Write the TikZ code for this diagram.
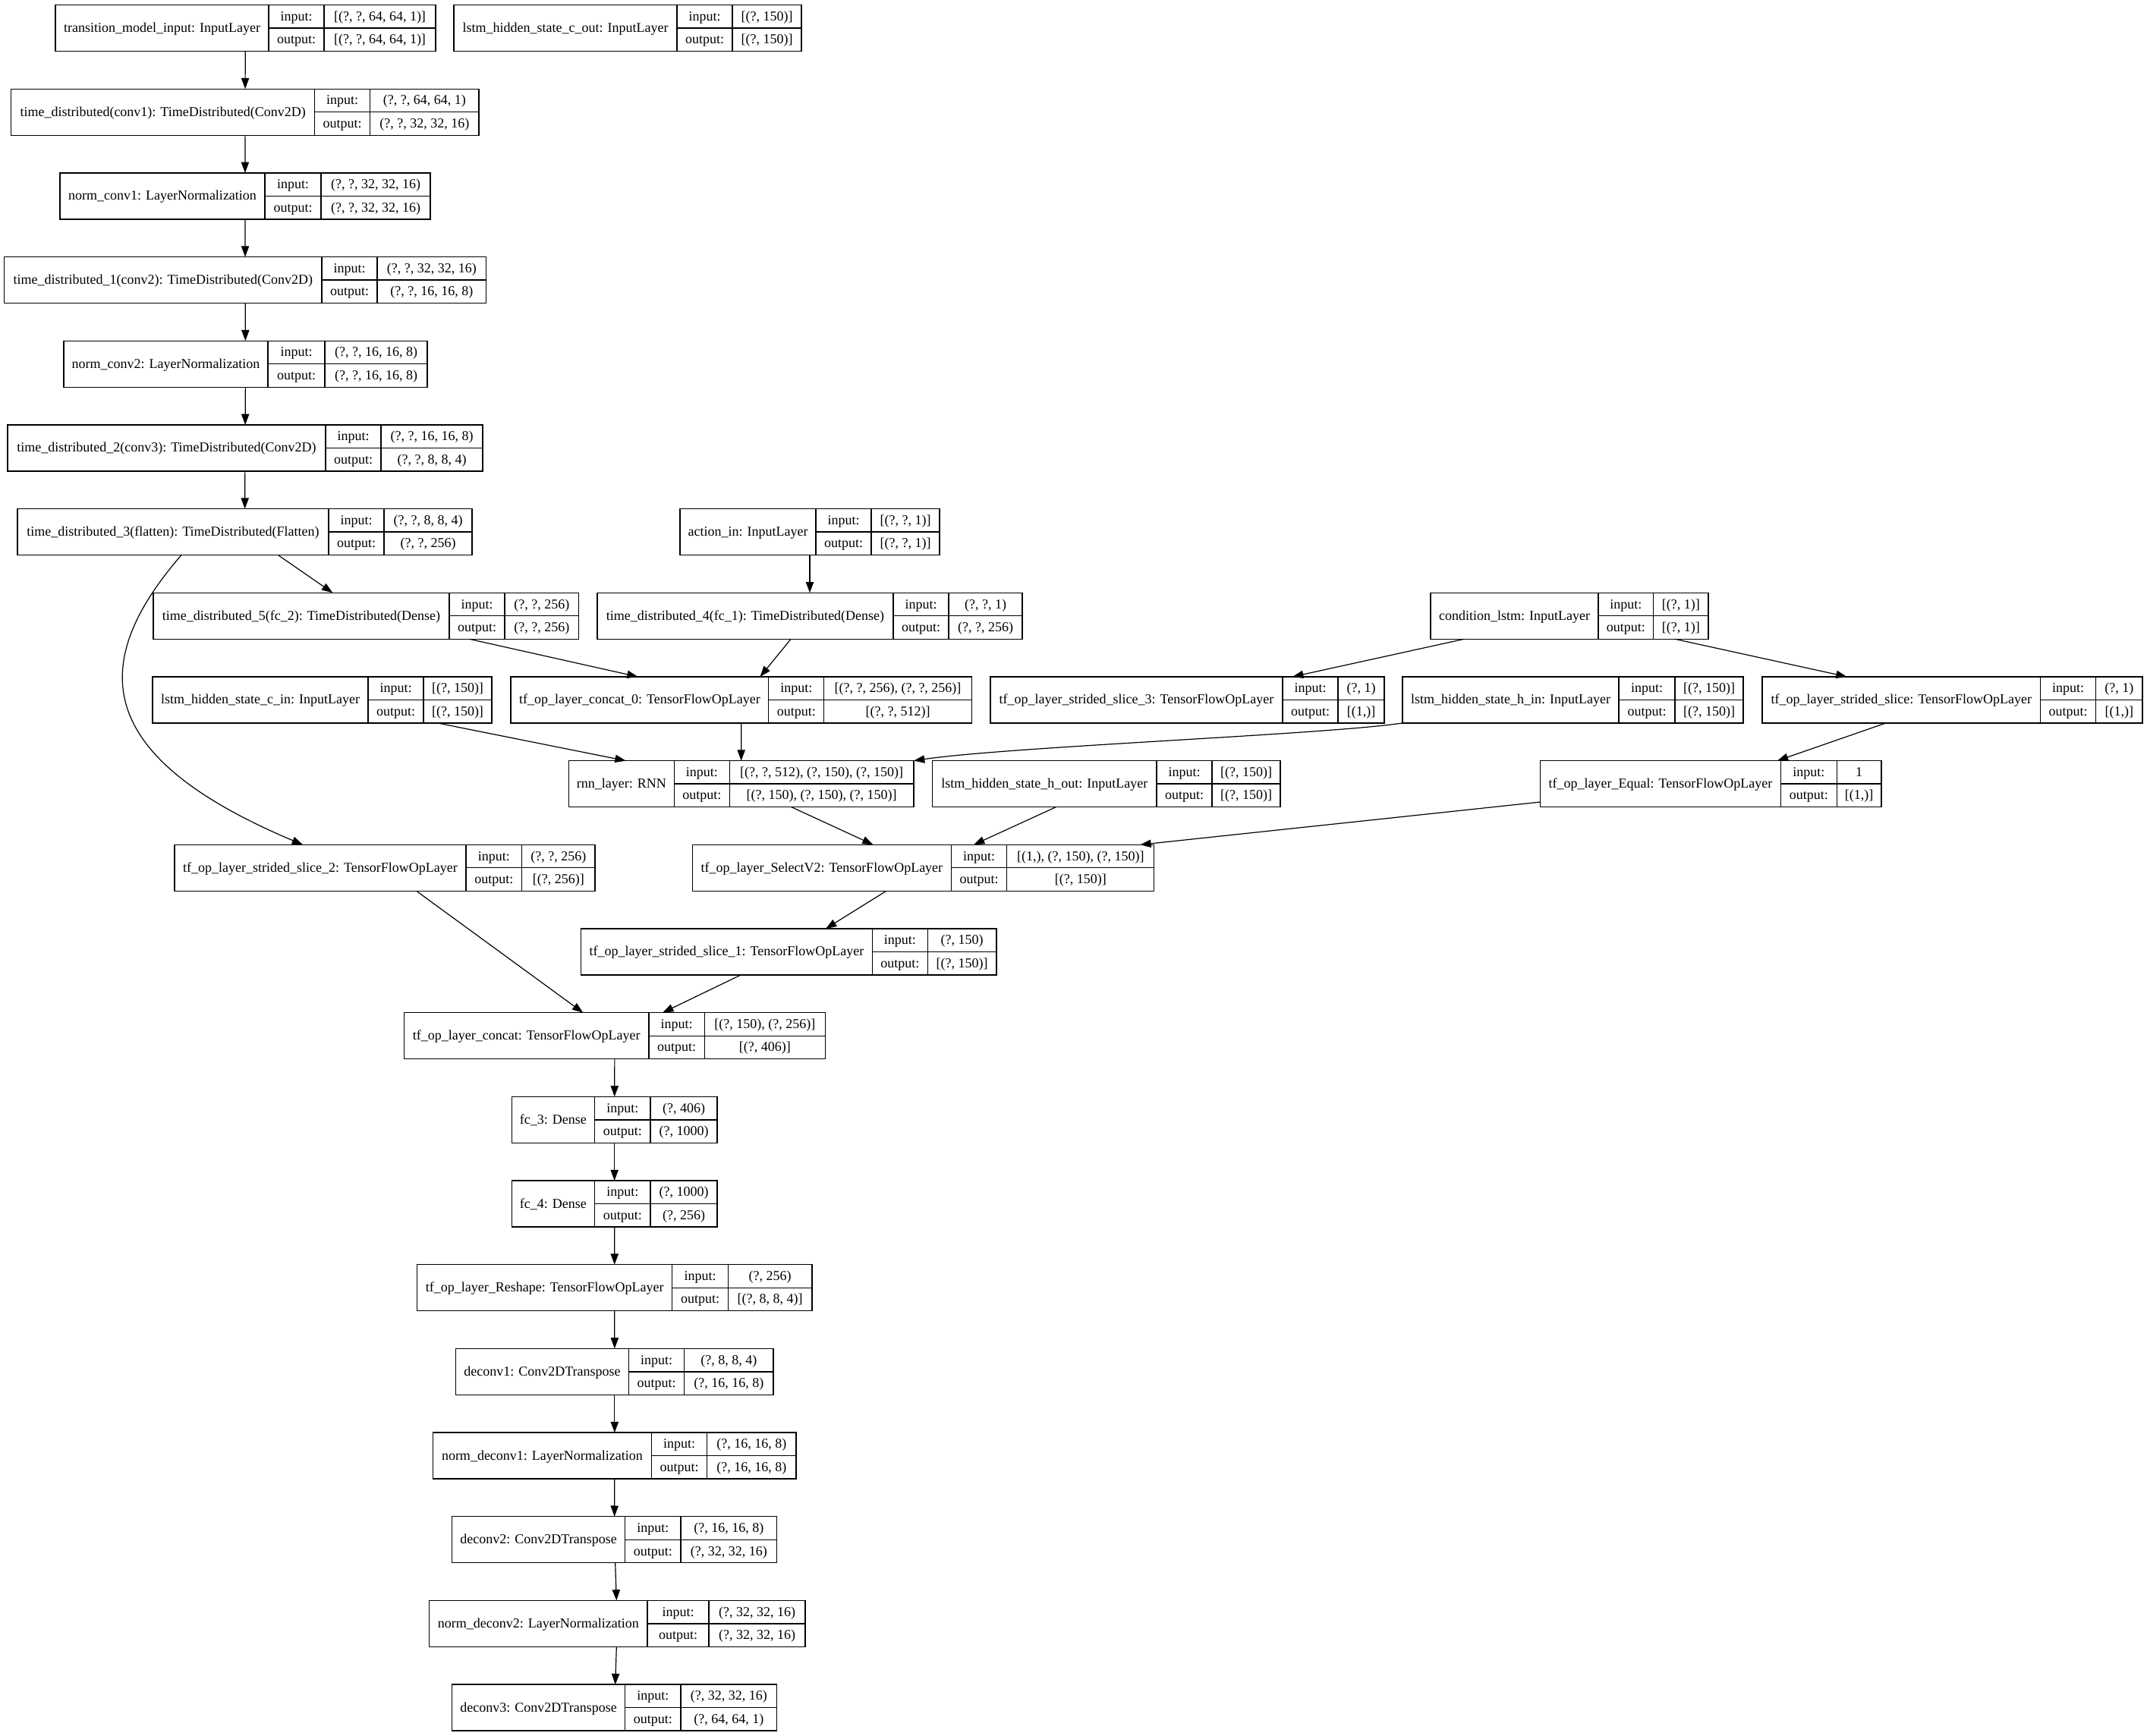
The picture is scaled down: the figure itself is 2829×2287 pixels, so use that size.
\documentclass[tikz,border=0pt]{standalone}
\usepackage{fontspec}
\setmainfont{Liberation Serif}
\usetikzlibrary{calc, arrows.meta}

% one keras layer: name, rank, left, split 1, split 2, right, label, input, output
\newcommand{\kerasbox}[9]{%
  \pgfmathsetmacro\ktop{6.5+110.68*#2}%
  \pgfmathsetmacro\kmid{\ktop+30.5}%
  \pgfmathsetmacro\kbot{\ktop+61}%
  \pgfmathsetmacro\kwd{(#6-#3)*0.75}%
  \node[layerbox, minimum width=\kwd pt, anchor=north west] (#1) at (#3,\ktop) {};
  \draw[layerline] (#4,\ktop) -- (#4,\kbot) (#5,\ktop) -- (#5,\kbot) (#4,\kmid) -- (#6,\kmid);
  \node[celltext] (#1-name) at ({(#3+#4)/2},\kmid+5.5) {#7};
  \node[celltext] (#1-inl) at ({(#4+#5)/2},\ktop+20.75) {input:};
  \node[celltext] (#1-outl) at ({(#4+#5)/2},\kmid+20.75) {output:};
  \node[celltext] (#1-in) at ({(#5+#6)/2},\ktop+20.75) {#8};
  \node[celltext] (#1-out) at ({(#5+#6)/2},\kmid+20.75) {#9};
}

\begin{document}
\begin{tikzpicture}[>={Triangle[length=10.7pt,width=7.7pt]}, x=0.75pt, y=-0.75pt,
  font=\fontsize{13.5}{16}\selectfont,
  layerbox/.style={draw, line width=1pt, inner sep=0pt, outer sep=0pt, minimum height=45.75pt},
  layerline/.style={line width=1pt},
  celltext/.style={inner sep=0pt, anchor=base},
  edge/.style={->, line width=0.9pt}]
  \path[use as bounding box, fill=white] (0,0) rectangle (2829,2287);

  % encoder column
  \kerasbox{inp}{0}{73}{354}{427}{574}{transition\_model\_input: InputLayer}{[(?, ?, 64, 64, 1)]}{[(?, ?, 64, 64, 1)]}
  \kerasbox{hcout}{0}{598}{892}{965}{1056}{lstm\_hidden\_state\_c\_out: InputLayer}{[(?, 150)]}{[(?, 150)]}
  \kerasbox{conv1}{1}{14.7}{414.6}{487.5}{631}{time\_distributed(conv1): TimeDistributed(Conv2D)}{(?, ?, 64, 64, 1)}{(?, ?, 32, 32, 16)}
  \kerasbox{nconv1}{2}{79}{349}{423}{567}{norm\_conv1: LayerNormalization}{(?, ?, 32, 32, 16)}{(?, ?, 32, 32, 16)}
  \kerasbox{conv2}{3}{5.6}{424}{497}{640.5}{time\_distributed\_1(conv2): TimeDistributed(Conv2D)}{(?, ?, 32, 32, 16)}{(?, ?, 16, 16, 8)}
  \kerasbox{nconv2}{4}{84}{353}{428}{563}{norm\_conv2: LayerNormalization}{(?, ?, 16, 16, 8)}{(?, ?, 16, 16, 8)}
  \kerasbox{conv3}{5}{10}{429}{502}{636}{time\_distributed\_2(conv3): TimeDistributed(Conv2D)}{(?, ?, 16, 16, 8)}{(?, ?, 8, 8, 4)}
  \kerasbox{flat}{6}{23}{433}{506}{622}{time\_distributed\_3(flatten): TimeDistributed(Flatten)}{(?, ?, 8, 8, 4)}{(?, ?, 256)}
  \kerasbox{act}{6}{896}{1075}{1148}{1238}{action\_in: InputLayer}{[(?, ?, 1)]}{[(?, ?, 1)]}

  % recurrent part
  \kerasbox{fc2}{7}{202}{592}{665}{762.5}{time\_distributed\_5(fc\_2): TimeDistributed(Dense)}{(?, ?, 256)}{(?, ?, 256)}
  \kerasbox{fc1}{7}{787}{1177}{1250}{1347}{time\_distributed\_4(fc\_1): TimeDistributed(Dense)}{(?, ?, 1)}{(?, ?, 256)}
  \kerasbox{cond}{7}{1885}{2106}{2178.6}{2251}{condition\_lstm: InputLayer}{[(?, 1)]}{[(?, 1)]}
  \kerasbox{hcin}{8}{201}{485}{558}{648}{lstm\_hidden\_state\_c\_in: InputLayer}{[(?, 150)]}{[(?, 150)]}
  \kerasbox{cat0}{8}{673}{1012.8}{1085.7}{1280.3}{tf\_op\_layer\_concat\_0: TensorFlowOpLayer}{[(?, ?, 256), (?, ?, 256)]}{[(?, ?, 512)]}
  \kerasbox{ss3}{8}{1305}{1690}{1763}{1824}{tf\_op\_layer\_strided\_slice\_3: TensorFlowOpLayer}{(?, 1)}{[(1,)]}
  \kerasbox{hhin}{8}{1848}{2133}{2207}{2297}{lstm\_hidden\_state\_h\_in: InputLayer}{[(?, 150)]}{[(?, 150)]}
  \kerasbox{ss}{8}{2322}{2688.6}{2761.7}{2823}{tf\_op\_layer\_strided\_slice: TensorFlowOpLayer}{(?, 1)}{[(1,)]}
  \kerasbox{rnn}{9}{749.4}{888.3}{961.2}{1204}{rnn\_layer: RNN}{[(?, ?, 512), (?, 150), (?, 150)]}{[(?, 150), (?, 150), (?, 150)]}
  \kerasbox{hhout}{9}{1228.6}{1524}{1597}{1687}{lstm\_hidden\_state\_h\_out: InputLayer}{[(?, 150)]}{[(?, 150)]}
  \kerasbox{eq}{9}{2029.4}{2346.3}{2420.4}{2479}{tf\_op\_layer\_Equal: TensorFlowOpLayer}{1}{[(1,)]}
  \kerasbox{ss2}{10}{230}{614}{687.5}{784}{tf\_op\_layer\_strided\_slice\_2: TensorFlowOpLayer}{(?, ?, 256)}{[(?, 256)]}
  \kerasbox{sel}{10}{912.4}{1253.3}{1326.8}{1520.8}{tf\_op\_layer\_SelectV2: TensorFlowOpLayer}{[(1,), (?, 150), (?, 150)]}{[(?, 150)]}
  \kerasbox{ss1}{11}{765.4}{1149.4}{1222.3}{1313}{tf\_op\_layer\_strided\_slice\_1: TensorFlowOpLayer}{(?, 150)}{[(?, 150)]}

  % decoder column
  \kerasbox{cat}{12}{532.5}{855}{928.2}{1087.4}{tf\_op\_layer\_concat: TensorFlowOpLayer}{[(?, 150), (?, 256)]}{[(?, 406)]}
  \kerasbox{fc3}{13}{674.3}{783.6}{857.1}{945}{fc\_3: Dense}{(?, 406)}{(?, 1000)}
  \kerasbox{fc4}{14}{674.3}{783.6}{857.1}{945}{fc\_4: Dense}{(?, 1000)}{(?, 256)}
  \kerasbox{resh}{15}{549.6}{885.7}{959.3}{1070}{tf\_op\_layer\_Reshape: TensorFlowOpLayer}{(?, 256)}{[(?, 8, 8, 4)]}
  \kerasbox{dc1}{16}{600.7}{828.2}{901.8}{1019}{deconv1: Conv2DTranspose}{(?, 8, 8, 4)}{(?, 16, 16, 8)}
  \kerasbox{ndc1}{17}{570.7}{858.2}{931.8}{1049}{norm\_deconv1: LayerNormalization}{(?, 16, 16, 8)}{(?, 16, 16, 8)}
  \kerasbox{dc2}{18}{595.7}{823.6}{897.1}{1023.6}{deconv2: Conv2DTranspose}{(?, 16, 16, 8)}{(?, 32, 32, 16)}
  \kerasbox{ndc2}{19}{565.7}{853}{934}{1061}{norm\_deconv2: LayerNormalization}{(?, 32, 32, 16)}{(?, 32, 32, 16)}
  \kerasbox{dc3}{20}{595.7}{823.6}{897.1}{1023.6}{deconv3: Conv2DTranspose}{(?, 32, 32, 16)}{(?, 64, 64, 1)}

  % straight connectors, centre to centre
  \foreach \a/\b in {inp/conv1, conv1/nconv1, nconv1/conv2, conv2/nconv2, nconv2/conv3, conv3/flat,
      flat/fc2, act/fc1, fc2/cat0, fc1/cat0, cond/ss3, cond/ss, hcin/rnn, cat0/rnn, ss/eq,
      rnn/sel, hhout/sel, eq/sel, ss2/cat, sel/ss1, ss1/cat, cat/fc3, fc3/fc4, fc4/resh,
      resh/dc1, dc1/ndc1, ndc1/dc2, dc2/ndc2, ndc2/dc3}
    \draw[edge] (\a) -- (\b);
  % curved connectors
  \draw[edge] ($(flat.south west)+(216,0)$) .. controls (110,880) and (130,1000) .. ($(ss2.north west)+(169,0)$);
  \draw[edge] (hhin.south west) .. controls (1750,968) and (1330,984) .. (rnn.north east);
\end{tikzpicture}
\end{document}
